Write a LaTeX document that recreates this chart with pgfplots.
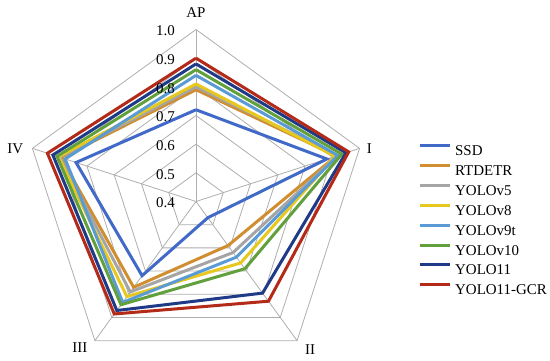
\documentclass[border=0pt]{standalone}
\usepackage{fontspec}
\setmainfont{Liberation Serif}
\usepackage{pgfplots}
\pgfplotsset{compat=1.18}
\usepgfplotslibrary{polar}
\usetikzlibrary{calc}
\definecolor{gridc}{HTML}{AEAEAE}
\definecolor{cSSD}{HTML}{4169C8}
\definecolor{cRT}{HTML}{D08E30}
\definecolor{cV5}{HTML}{A5A5A5}
\definecolor{cV8}{HTML}{E6C81E}
\definecolor{cV9}{HTML}{5B9BD5}
\definecolor{cV10}{HTML}{62A03E}
\definecolor{cV11}{HTML}{1F3A86}
\definecolor{cGCR}{HTML}{B32A18}
\newcommand{\lf}{\fontsize{15}{18}\selectfont}
\begin{document}
\begin{tikzpicture}
\begin{polaraxis}[
  name=ax,
  scale only axis, width=344bp, height=344bp,
  hide axis,
  xmin=0, xmax=360, ymin=0, ymax=0.6,
  y filter/.expression={y-0.4},
  clip=false,
  every axis plot/.append style={line join=miter},
  legend style={at={(1.1453,0.4477)}, anchor=west, draw=none, fill=none,
    inner sep=0pt, font=\lf, row sep=8.4bp, column sep=4bp,
    nodes={inner sep=0pt, text height=11bp, text depth=0pt}},
  legend cell align=left,
  legend image code/.code={\draw[#1] (0bp,4.5bp) -- (30bp,4.5bp);},
]
% grid pentagons
\foreach \r in {0.5,0.6,0.7,0.8,0.9,1.0}{
  \edef\tmp{\noexpand\addplot[gridc, line width=0.8bp, forget plot] coordinates {(90,\r) (18,\r) (306,\r) (234,\r) (162,\r) (90,\r)};}
  \tmp
}
\addplot[gridc, line width=0.8bp, forget plot] coordinates {(90,0.4) (90,1.0)};
\addplot[gridc, line width=0.8bp, forget plot] coordinates {(18,0.4) (18,1.0)};
\addplot[gridc, line width=0.8bp, forget plot] coordinates {(306,0.4) (306,1.0)};
\addplot[gridc, line width=0.8bp, forget plot] coordinates {(234,0.4) (234,1.0)};
\addplot[gridc, line width=0.8bp, forget plot] coordinates {(162,0.4) (162,1.0)};
% tick labels
\addplot[draw=none, forget plot, nodes near coords, point meta=explicit symbolic,
  every node near coord/.append style={anchor=east, inner sep=0pt, xshift=-21bp, yshift=-1.5bp, text=black, font=\lf}]
  coordinates {(90,0.4)[0.4] (90,0.5)[0.5] (90,0.6)[0.6] (90,0.7)[0.7] (90,0.8)[0.8] (90,0.9)[0.9] (90,1.0)[1.0]};
% axis labels
\addplot[draw=none, forget plot, nodes near coords, point meta=explicit symbolic,
  every node near coord/.append style={anchor=base, inner sep=0pt, yshift=12bp, text=black, font=\lf}]
  coordinates {(90,1.0)[AP]};
\addplot[draw=none, forget plot, nodes near coords, point meta=explicit symbolic,
  every node near coord/.append style={anchor=west, inner sep=0pt, xshift=7bp, text=black, font=\lf}]
  coordinates {(18,1.0)[I]};
\addplot[draw=none, forget plot, nodes near coords, point meta=explicit symbolic,
  every node near coord/.append style={anchor=center, inner sep=0pt, xshift=13bp, yshift=-9bp, text=black, font=\lf}]
  coordinates {(306,1.0)[II]};
\addplot[draw=none, forget plot, nodes near coords, point meta=explicit symbolic,
  every node near coord/.append style={anchor=center, inner sep=0pt, xshift=-15bp, yshift=-7bp, text=black, font=\lf}]
  coordinates {(234,1.0)[III]};
\addplot[draw=none, forget plot, nodes near coords, point meta=explicit symbolic,
  every node near coord/.append style={anchor=east, inner sep=0pt, xshift=-9bp, text=black, font=\lf}]
  coordinates {(162,1.0)[IV]};
% series: AP, I, II, III, IV
\addplot[cSSD, line width=3bp] coordinates {(90,0.72) (18,0.88) (306,0.47) (234,0.72) (162,0.84) (90,0.72)};
\addlegendentry{SSD}
\addplot[cRT, line width=3bp] coordinates {(90,0.79) (18,0.915) (306,0.59) (234,0.77) (162,0.895) (90,0.79)};
\addlegendentry{RTDETR}
\addplot[cV5, line width=3bp] coordinates {(90,0.80) (18,0.92) (306,0.62) (234,0.79) (162,0.90) (90,0.80)};
\addlegendentry{YOLOv5}
\addplot[cV8, line width=3bp] coordinates {(90,0.81) (18,0.91) (306,0.665) (234,0.81) (162,0.905) (90,0.81)};
\addlegendentry{YOLOv8}
\addplot[cV9, line width=3bp] coordinates {(90,0.84) (18,0.92) (306,0.64) (234,0.835) (162,0.88) (90,0.84)};
\addlegendentry{YOLOv9t}
\addplot[cV10, line width=3bp] coordinates {(90,0.86) (18,0.935) (306,0.69) (234,0.845) (162,0.91) (90,0.86)};
\addlegendentry{YOLOv10}
\addplot[cV11, line width=3bp] coordinates {(90,0.88) (18,0.95) (306,0.795) (234,0.87) (162,0.925) (90,0.88)};
\addlegendentry{YOLO11}
\addplot[cGCR, line width=3bp] coordinates {(90,0.90) (18,0.96) (306,0.83) (234,0.885) (162,0.945) (90,0.90)};
\addlegendentry{YOLO11-GCR}
\end{polaraxis}
\pgfresetboundingbox
\path (ax.center) ++(-196bp,-159.5bp) rectangle ++(550bp,361bp);
\end{tikzpicture}
\end{document}
